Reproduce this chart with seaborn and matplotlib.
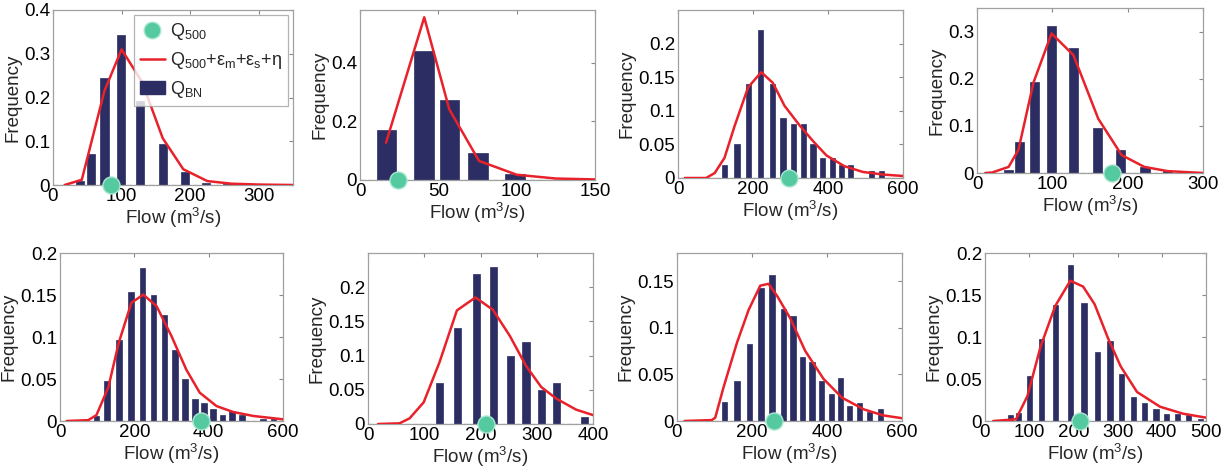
import numpy as np
import matplotlib
matplotlib.use("Agg")
import matplotlib.pyplot as plt
import seaborn as sns
from matplotlib.lines import Line2D
from matplotlib.patches import Patch

# ---- data (bin centre, frequency, fitted curve, Q500) ----
p1_bins = [39, 55, 75, 99, 127, 160, 193, 223, 254]
p1_freq = [0.009, 0.07, 0.245, 0.343, 0.193, 0.094, 0.03, 0.005, 0.002]
p1_cx = [17, 42, 75, 100, 130, 160, 190, 225, 260, 300, 350]
p1_cy = [0, 0.012, 0.215, 0.31, 0.235, 0.107, 0.036, 0.009, 0.003, 0.001, 0]
p1_q500 = 84

p2_bins = [17, 41, 57, 75.5, 99]
p2_freq = [0.171, 0.441, 0.273, 0.092, 0.02]
p2_cx = [16.6, 41, 57, 76, 100, 125, 150]
p2_cy = [0.127, 0.555, 0.241, 0.065, 0.018, 0.005, 0.002]
p2_q500 = 24.5

p3_bins = [124, 157, 188, 220, 252, 280, 308, 335, 360, 385, 411, 436, 460, 516, 542]
p3_freq = [0.02, 0.05, 0.14, 0.22, 0.14, 0.09, 0.08, 0.08, 0.05, 0.03, 0.03, 0.02, 0.02, 0.01, 0.01]
p3_cx = [18, 75, 98, 124, 151, 187, 222, 253, 284, 324, 360, 396, 444, 493, 550, 600]
p3_cy = [0, 0, 0.0075, 0.03, 0.0775, 0.135, 0.1575, 0.1415, 0.1075, 0.0785, 0.055, 0.0335, 0.0175, 0.009, 0.005, 0.003]
p3_q500 = 296

p4_bins = [42, 57, 76, 99, 128, 160, 191, 223, 253]
p4_freq = [0.007, 0.065, 0.194, 0.311, 0.266, 0.095, 0.049, 0.013, 0.004]
p4_cx = [11, 20, 42, 55, 75, 99, 128, 161, 192, 222, 253, 300]
p4_cy = [0, 0.001, 0.013, 0.049, 0.192, 0.296, 0.25, 0.115, 0.038, 0.013, 0.004, 0]
p4_q500 = 179

p5_bins = [98.5, 127, 158, 191, 222, 251, 281, 309, 336, 363, 387, 412, 437, 463, 490, 546, 575]
p5_freq = [0.006, 0.048, 0.097, 0.154, 0.182, 0.150, 0.126, 0.085, 0.0495, 0.026, 0.022,
           0.014, 0.007, 0.012, 0.007, 0.002, 0.002]
p5_cx = [18, 76, 98, 130, 158, 192, 224, 260, 300, 340, 376, 421, 466, 520, 600]
p5_cy = [0, 0.001, 0.007, 0.04, 0.093, 0.1406, 0.1505, 0.1366, 0.101, 0.061, 0.0337,
         0.0178, 0.0107, 0.006, 0.002]
p5_q500 = 379

p6_bins = [127, 159, 193, 223, 253, 281, 309, 335, 385]
p6_freq = [0.06, 0.14, 0.22, 0.23, 0.10, 0.12, 0.05, 0.06, 0.01]
p6_cx = [18, 56, 74, 99, 127, 158, 191, 222, 252, 281, 308, 335, 370, 400]
p6_cy = [0, 0.001, 0.0083, 0.0317, 0.09, 0.166, 0.185, 0.167, 0.129, 0.085, 0.054, 0.037, 0.021, 0.013]
p6_q500 = 209

p7_bins = [126, 160, 193, 224, 253, 283, 309, 335, 360, 385, 411, 436, 460, 487, 514, 542]
p7_freq = [0.02, 0.043, 0.083, 0.143, 0.156, 0.12, 0.113, 0.069, 0.063, 0.043, 0.029,
           0.046, 0.016, 0.0196, 0.0096, 0.013]
p7_cx = [20, 93, 102, 124, 160, 191, 222, 244, 267, 302, 342, 391, 440, 498, 550, 600]
p7_cy = [0, 0.001, 0.0036, 0.036, 0.084, 0.119, 0.145, 0.147, 0.134, 0.11, 0.075, 0.045,
         0.025, 0.0125, 0.006, 0.003]
p7_q500 = 258

p8_bins = [58, 76, 100, 128, 159, 193, 224, 254, 283, 309, 336, 361, 387, 410, 436, 461, 487]
p8_freq = [0.007, 0.009, 0.0535, 0.098, 0.138, 0.186, 0.141, 0.082, 0.095, 0.056, 0.029,
           0.022, 0.0147, 0.0087, 0.0087, 0.0067, 0.0028]
p8_cx = [18.5, 70, 96, 126, 159, 193, 222, 248, 278, 307, 344, 396, 448, 500]
p8_cy = [0, 0.002, 0.0297, 0.089, 0.137, 0.167, 0.16, 0.139, 0.099, 0.065, 0.0345,
         0.017, 0.0087, 0.004]
p8_q500 = 215

# axis limits and tick labels per panel
xlims = [350, 150, 600, 300, 600, 400, 600, 500]
xticks = [[0, 100, 200, 300], [0, 50, 100, 150], [0, 200, 400, 600], [0, 100, 200, 300],
          [0, 200, 400, 600], [0, 100, 200, 300, 400], [0, 200, 400, 600],
          [0, 100, 200, 300, 400, 500]]
ylims = [0.4, 0.58, 0.25, 0.35, 0.2, 0.25, 0.18, 0.2]
yticks = [["0", "0.1", "0.2", "0.3", "0.4"], ["0", "0.2", "0.4"],
          ["0", "0.05", "0.1", "0.15", "0.2"], ["0", "0.1", "0.2", "0.3"],
          ["0", "0.05", "0.1", "0.15", "0.2"], ["0", "0.05", "0.1", "0.15", "0.2"],
          ["0", "0.05", "0.1", "0.15"], ["0", "0.05", "0.1", "0.15", "0.2"]]

panels = [
    (p1_bins, p1_freq, p1_cx, p1_cy, p1_q500),
    (p2_bins, p2_freq, p2_cx, p2_cy, p2_q500),
    (p3_bins, p3_freq, p3_cx, p3_cy, p3_q500),
    (p4_bins, p4_freq, p4_cx, p4_cy, p4_q500),
    (p5_bins, p5_freq, p5_cx, p5_cy, p5_q500),
    (p6_bins, p6_freq, p6_cx, p6_cy, p6_q500),
    (p7_bins, p7_freq, p7_cx, p7_cy, p7_q500),
    (p8_bins, p8_freq, p8_cx, p8_cy, p8_q500),
]

# axes boxes in pixels (left, right, top, bottom) and bar widths in data units
boxes = [(53, 293, 10, 185), (360, 595, 10, 180), (678, 903, 10, 178), (977, 1203, 8, 173),
         (60, 283, 253, 421), (368, 593, 253, 424), (677, 902, 253, 421), (985, 1206, 253, 421)]
bar_widths = [12, 12.5, 14, 12, 15, 13, 14, 12]

BAR = "#2c2e63"
RED = "#e8212a"
GREEN = "#55c9a0"

sns.set_theme(style="white")
plt.rcParams["font.family"] = ["Liberation Sans", "DejaVu Sans"]
plt.rcParams["mathtext.fontset"] = "custom"
plt.rcParams["mathtext.rm"] = "Liberation Sans"
plt.rcParams["mathtext.it"] = "Liberation Sans"

W, H = 1224, 472
fig = plt.figure(figsize=(W / 100, H / 100), dpi=100)

for i, (bins, freq, cx, cy, q500) in enumerate(panels):
    l, r, t, b = boxes[i]
    ax = fig.add_axes([l / W, 1 - b / H, (r - l) / W, (b - t) / H])

    ax.bar(bins, freq, width=bar_widths[i], color=BAR, edgecolor=BAR, linewidth=0.5, zorder=2)
    ax.axhline(0, color="#bdbdbd", lw=1, ls="--", zorder=1)
    sns.lineplot(x=cx, y=cy, ax=ax, color=RED, lw=1.8, zorder=3, sort=False)
    sns.scatterplot(x=[q500], y=[0], ax=ax, color=GREEN, s=150, edgecolor="#a8e8cf",
                    linewidth=1, zorder=4, clip_on=False)

    ax.set_xlim(0, xlims[i])
    ax.set_ylim(0, ylims[i])
    ax.set_xticks(xticks[i])
    ax.set_xticklabels([str(v) for v in xticks[i]])
    ax.set_yticks([float(v) for v in yticks[i]])
    ax.set_yticklabels(yticks[i])
    ax.tick_params(direction="in", length=3, width=0.8, color="#888888", labelsize=13.5,
                   top=True, right=True, pad=2, labelcolor="black")
    for s in ax.spines.values():
        s.set_color("#a0a0a0")
        s.set_linewidth(0.9)
    ax.set_xlabel("Flow (m$^3$/s)", fontsize=13.5, labelpad=1)
    ax.set_ylabel("Frequency", fontsize=13.5, labelpad=2)

    if i == 0:
        handles = [
            Line2D([0], [0], marker="o", ls="none", markersize=12, markerfacecolor=GREEN,
                   markeredgecolor="#a8e8cf"),
            Line2D([0], [0], color=RED, lw=1.8),
            Patch(facecolor=BAR, edgecolor=BAR),
        ]
        labels = [r"Q$_{500}$", r"Q$_{500}$+$\varepsilon_{m}$+$\varepsilon_{s}$+$\eta$", r"Q$_{BN}$"]
        leg = ax.legend(handles, labels, loc="upper right", fontsize=13, frameon=True,
                        fancybox=False, borderpad=0.3, labelspacing=0.45, handlelength=1.4,
                        handletextpad=0.3, borderaxespad=0.3)
        leg.get_frame().set_edgecolor("#a0a0a0")
        leg.get_frame().set_linewidth(0.9)

fig.savefig("out.png", dpi=100)
